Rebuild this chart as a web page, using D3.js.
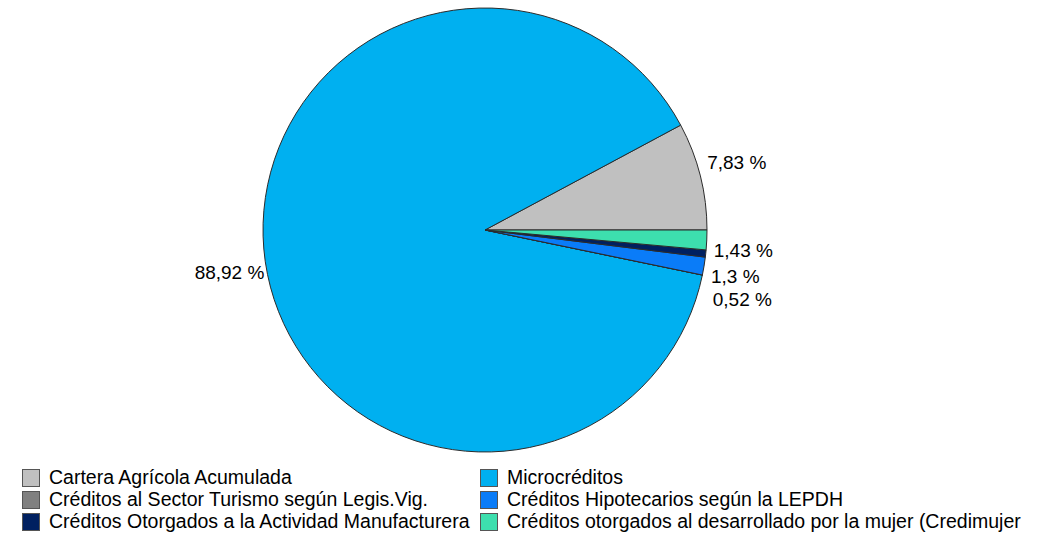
<!DOCTYPE html>
<html>
<head>
<meta charset="utf-8">
<script src="https://cdn.jsdelivr.net/npm/d3@7"></script>
<style>
  body { margin: 0; background: #fff; }
  text { font-family: Arial, "Liberation Sans", sans-serif; font-size: 19px; fill: #000; }
  .legend text { font-size: 19.5px; }
</style>
</head>
<body>
<svg id="chart" width="1046" height="536"></svg>
<script>
// Data, in legend order
var categories = [
    "Cartera Agrícola Acumulada",
    "Microcréditos",
    "Créditos al Sector Turismo según Legis.Vig.",
    "Créditos Hipotecarios según la LEPDH",
    "Créditos Otorgados a la Actividad Manufacturera",
    "Créditos otorgados al desarrollado por la mujer (Credimujer"
];
var shares = [7.83, 88.92, 0, 1.3, 0.52, 1.43];
var shareLabels = ["7,83 %", "88,92 %", "", "1,3 %", "0,52 %", "1,43 %"];
var colors = ["#c0c0c0", "#00b0f0", "#808080", "#0a7cf8", "#002060", "#3ddfae"];

var cx = 485, cy = 230, radius = 222;
var svg = d3.select("#chart");

// Pie starts at 3 o'clock and runs counter-clockwise
var pie = d3.pie()
    .sort(null)
    .value(function(d) { return d; })
    .startAngle(Math.PI / 2)
    .endAngle(Math.PI / 2 - 2 * Math.PI);

var arc = d3.arc().innerRadius(0).outerRadius(radius);
var arcs = pie(shares);

var g = svg.append("g").attr("transform", "translate(" + cx + "," + cy + ")");

g.selectAll("path")
    .data(arcs)
    .enter()
    .append("path")
    .attr("d", arc)
    .attr("fill", function(d, i) { return colors[i]; })
    .attr("stroke", "#2b2b2b")
    .attr("stroke-width", 1)
    .attr("stroke-linejoin", "round");

// Labels - placed at the rim, pushed down when they collide (in data order)
var labelR = radius + 5,
    boxH = 23,
    placed = [];

arcs.forEach(function(d, i) {
    if (!shares[i]) return;
    var a = (d.startAngle + d.endAngle) / 2;
    var px = labelR * Math.sin(a),
        py = -labelR * Math.cos(a);
    var right = px >= 0,
        upper = py < 0;
    var top = upper ? py - boxH : py;
    placed.forEach(function(p) {
        if (p.right == right && top < p.top + boxH && top + boxH > p.top) {
            top = p.top + boxH;
        }
    });
    placed.push({top: top, right: right});
    g.append("text")
        .attr("x", right ? px + 2 : px + 4)
        .attr("y", upper ? top + boxH - 6 : top + 16.5)
        .attr("text-anchor", right ? "start" : "end")
        .text(shareLabels[i]);
});

// Legend - two columns, filled row by row
var legendX = [22, 480], legendY = 469, rowH = 22;
var legend = svg.selectAll(".legend")
    .data(categories)
    .enter()
    .append("g")
    .attr("class", "legend")
    .attr("transform", function(d, i) {
        return "translate(" + legendX[i % 2] + "," + (legendY + Math.floor(i / 2) * rowH) + ")";
    });

legend.append("rect")
    .attr("x", 0.5)
    .attr("y", 0.5)
    .attr("width", 17)
    .attr("height", 17)
    .attr("fill", function(d, i) { return colors[i]; })
    .attr("stroke", "#555")
    .attr("stroke-width", 1);

legend.append("text")
    .attr("x", 27)
    .attr("y", 15)
    .text(function(d) { return d; });
</script>
</body>
</html>
